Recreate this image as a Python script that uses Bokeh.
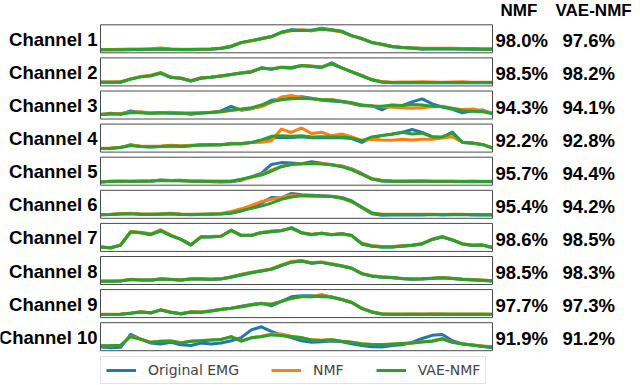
from bokeh.plotting import figure
from bokeh.models import Range1d, ColumnDataSource, Legend, LegendItem
from bokeh.core.properties import value
from bokeh.embed import file_html
from bokeh.resources import INLINE

# ---------------- data ----------------
channels = ["Channel 1", "Channel 2", "Channel 3", "Channel 4", "Channel 5",
            "Channel 6", "Channel 7", "Channel 8", "Channel 9", "Channel 10"]
nmf_acc = ["98.0%", "98.5%", "94.3%", "92.2%", "95.7%", "95.4%", "98.6%", "98.5%", "97.7%", "91.9%"]
vae_acc = ["97.6%", "98.2%", "94.1%", "92.8%", "94.4%", "94.2%", "98.5%", "98.3%", "97.3%", "91.2%"]
headers = ["NMF", "VAE-NMF"]
series_names = ["Original EMG", "NMF", "VAE-NMF"]

emg_1 = [0.01,0.01,0.02,0.02,0.03,0.04,0.05,0.03,0.02,0.02,0.03,0.04,0.07,0.15,0.33,0.42,0.5,0.6,0.77,0.9,0.88,0.88,0.97,0.9,0.84,0.63,0.52,0.33,0.25,0.15,0.11,0.08,0.04,0.05,0.05,0.06,0.05,0.04,0.04,0.04]
nmf_1 = [0.02,0.03,0.04,0.05,0.05,0.06,0.09,0.05,0.04,0.04,0.04,0.05,0.09,0.18,0.32,0.4,0.52,0.58,0.78,0.86,0.9,0.85,0.93,0.88,0.8,0.64,0.5,0.34,0.26,0.17,0.12,0.1,0.08,0.08,0.08,0.08,0.07,0.07,0.06,0.06]
vae_1 = [0.01,0.02,0.02,0.03,0.03,0.04,0.05,0.04,0.03,0.03,0.04,0.05,0.08,0.17,0.34,0.42,0.5,0.6,0.8,0.88,0.87,0.88,0.92,0.89,0.82,0.64,0.5,0.34,0.26,0.16,0.11,0.09,0.07,0.06,0.06,0.06,0.05,0.05,0.04,0.04]

emg_2 = [0.04,0.04,0.04,0.18,0.28,0.33,0.45,0.25,0.22,0.1,0.22,0.26,0.32,0.38,0.45,0.5,0.68,0.62,0.7,0.66,0.78,0.74,0.7,0.9,0.68,0.5,0.33,0.15,0.05,0.02,0.02,0.02,0.03,0.02,0.02,0.02,0.03,0.02,0.02,0.02]
nmf_2 = [0.05,0.05,0.06,0.2,0.3,0.35,0.48,0.27,0.22,0.12,0.24,0.27,0.33,0.38,0.46,0.52,0.66,0.63,0.72,0.7,0.78,0.76,0.72,0.86,0.68,0.5,0.34,0.16,0.07,0.04,0.05,0.05,0.06,0.05,0.04,0.05,0.06,0.04,0.04,0.04]
vae_2 = [0.04,0.04,0.05,0.18,0.28,0.33,0.45,0.26,0.22,0.1,0.23,0.26,0.32,0.38,0.45,0.5,0.67,0.63,0.7,0.69,0.78,0.75,0.71,0.86,0.68,0.5,0.33,0.15,0.05,0.03,0.03,0.03,0.03,0.03,0.03,0.03,0.03,0.03,0.03,0.03]

emg_3 = [0.07,0.13,0.09,0.24,0.17,0.13,0.17,0.13,0.15,0.09,0.15,0.17,0.24,0.44,0.27,0.33,0.47,0.71,0.77,0.81,0.87,0.8,0.71,0.68,0.64,0.57,0.47,0.47,0.28,0.49,0.47,0.64,0.77,0.55,0.41,0.31,0.15,0.24,0.28,0.11]
nmf_3 = [0.1,0.1,0.12,0.18,0.2,0.15,0.16,0.18,0.14,0.15,0.16,0.18,0.2,0.26,0.3,0.35,0.42,0.62,0.85,0.92,0.82,0.78,0.72,0.74,0.66,0.58,0.5,0.46,0.42,0.4,0.38,0.36,0.38,0.42,0.45,0.35,0.3,0.32,0.25,0.15]
vae_3 = [0.08,0.1,0.1,0.16,0.16,0.14,0.15,0.15,0.14,0.13,0.15,0.17,0.2,0.28,0.32,0.38,0.5,0.65,0.73,0.78,0.8,0.78,0.74,0.72,0.67,0.6,0.5,0.46,0.45,0.5,0.48,0.52,0.5,0.45,0.42,0.36,0.25,0.22,0.2,0.12]

emg_4 = [0.04,0.04,0.08,0.21,0.13,0.11,0.13,0.16,0.13,0.16,0.21,0.19,0.21,0.27,0.24,0.31,0.4,0.51,0.53,0.53,0.56,0.51,0.53,0.51,0.51,0.48,0.31,0.53,0.61,0.67,0.75,0.88,0.75,0.56,0.53,0.77,0.31,0.27,0.21,0.06]
nmf_4 = [0.05,0.06,0.1,0.18,0.15,0.14,0.15,0.18,0.16,0.18,0.2,0.22,0.2,0.25,0.26,0.3,0.32,0.38,0.9,0.75,0.95,0.7,0.76,0.6,0.68,0.55,0.4,0.45,0.42,0.4,0.45,0.42,0.45,0.45,0.5,0.56,0.32,0.28,0.22,0.08]
vae_4 = [0.04,0.05,0.08,0.17,0.13,0.12,0.13,0.15,0.14,0.16,0.19,0.2,0.2,0.24,0.26,0.3,0.42,0.58,0.6,0.58,0.6,0.55,0.56,0.55,0.55,0.5,0.38,0.55,0.62,0.68,0.76,0.68,0.72,0.55,0.55,0.72,0.32,0.28,0.22,0.07]

emg_5 = [0.02,0.06,0.06,0.04,0.05,0.06,0.11,0.09,0.1,0.06,0.05,0.03,0.02,0.03,0.1,0.25,0.4,0.8,0.88,0.86,0.83,0.92,0.85,0.78,0.73,0.6,0.4,0.15,0.07,0.05,0.04,0.05,0.06,0.04,0.04,0.04,0.03,0.04,0.03,0.03]
nmf_5 = [0.03,0.05,0.05,0.06,0.07,0.08,0.1,0.09,0.08,0.07,0.07,0.06,0.06,0.07,0.13,0.22,0.36,0.55,0.72,0.8,0.83,0.84,0.84,0.8,0.72,0.58,0.38,0.18,0.1,0.08,0.07,0.07,0.08,0.06,0.06,0.06,0.05,0.06,0.05,0.05]
vae_5 = [0.02,0.04,0.05,0.05,0.06,0.07,0.09,0.08,0.08,0.06,0.06,0.05,0.05,0.06,0.14,0.25,0.33,0.5,0.7,0.8,0.83,0.84,0.82,0.78,0.7,0.56,0.36,0.16,0.08,0.06,0.05,0.06,0.06,0.05,0.05,0.05,0.04,0.05,0.04,0.04]

emg_6 = [0.04,0.05,0.08,0.1,0.06,0.05,0.06,0.08,0.05,0.04,0.05,0.06,0.07,0.1,0.2,0.35,0.55,0.8,0.78,0.98,0.92,0.9,0.88,0.86,0.8,0.65,0.35,0.08,0.02,0.03,0.03,0.04,0.03,0.05,0.03,0.04,0.05,0.03,0.04,0.03]
nmf_6 = [0.05,0.06,0.08,0.09,0.07,0.07,0.08,0.1,0.07,0.06,0.06,0.07,0.09,0.18,0.3,0.45,0.62,0.72,0.8,0.9,0.88,0.86,0.87,0.84,0.76,0.6,0.36,0.12,0.06,0.06,0.06,0.06,0.06,0.06,0.05,0.06,0.06,0.05,0.05,0.05]
vae_6 = [0.04,0.05,0.07,0.08,0.06,0.06,0.07,0.08,0.06,0.05,0.06,0.07,0.08,0.12,0.22,0.32,0.42,0.55,0.72,0.82,0.88,0.88,0.86,0.84,0.78,0.63,0.38,0.12,0.05,0.05,0.05,0.05,0.05,0.05,0.05,0.05,0.05,0.05,0.04,0.04]

emg_7 = [0.07,0.03,0.16,0.75,0.71,0.62,0.79,0.58,0.41,0.16,0.52,0.52,0.55,0.82,0.58,0.58,0.71,0.75,0.79,0.93,0.71,0.62,0.68,0.62,0.66,0.58,0.21,0.11,0.07,0.07,0.11,0.14,0.21,0.41,0.52,0.38,0.21,0.14,0.16,0.04]
nmf_7 = [0.08,0.04,0.17,0.76,0.73,0.66,0.84,0.6,0.42,0.18,0.53,0.54,0.56,0.8,0.6,0.6,0.72,0.78,0.82,0.9,0.7,0.64,0.68,0.63,0.66,0.58,0.24,0.14,0.1,0.1,0.13,0.16,0.22,0.42,0.54,0.4,0.22,0.16,0.17,0.06]
vae_7 = [0.07,0.04,0.16,0.74,0.71,0.63,0.8,0.58,0.41,0.17,0.52,0.53,0.55,0.81,0.59,0.59,0.71,0.76,0.8,0.91,0.71,0.63,0.68,0.62,0.66,0.58,0.22,0.12,0.08,0.08,0.12,0.15,0.22,0.41,0.53,0.39,0.21,0.15,0.16,0.05]

emg_8 = [0.02,0.02,0.03,0.1,0.08,0.07,0.12,0.1,0.07,0.12,0.12,0.1,0.12,0.2,0.3,0.4,0.48,0.55,0.72,0.88,0.92,0.82,0.86,0.78,0.7,0.6,0.35,0.25,0.2,0.18,0.14,0.11,0.12,0.15,0.18,0.15,0.1,0.08,0.06,0.03]
nmf_8 = [0.03,0.03,0.05,0.11,0.09,0.08,0.13,0.11,0.09,0.13,0.13,0.12,0.14,0.22,0.33,0.42,0.5,0.58,0.75,0.9,0.94,0.84,0.88,0.8,0.71,0.6,0.37,0.27,0.22,0.19,0.15,0.13,0.14,0.16,0.19,0.16,0.12,0.1,0.08,0.05]
vae_8 = [0.02,0.02,0.04,0.1,0.08,0.08,0.12,0.1,0.08,0.12,0.12,0.11,0.13,0.21,0.31,0.4,0.48,0.56,0.72,0.87,0.92,0.83,0.86,0.78,0.7,0.6,0.36,0.26,0.21,0.19,0.15,0.12,0.13,0.16,0.18,0.15,0.11,0.09,0.07,0.04]

emg_9 = [0.02,0.02,0.03,0.07,0.13,0.08,0.22,0.12,0.04,0.13,0.12,0.17,0.25,0.3,0.38,0.46,0.52,0.4,0.6,0.8,0.85,0.85,0.8,0.8,0.68,0.55,0.28,0.12,0.04,0.02,0.02,0.03,0.02,0.02,0.03,0.02,0.02,0.02,0.02,0.02]
nmf_9 = [0.03,0.03,0.04,0.08,0.14,0.1,0.23,0.13,0.06,0.14,0.13,0.18,0.24,0.29,0.36,0.44,0.5,0.48,0.6,0.72,0.82,0.8,0.9,0.78,0.68,0.55,0.3,0.14,0.05,0.04,0.04,0.04,0.04,0.05,0.04,0.04,0.04,0.04,0.04,0.03]
vae_9 = [0.02,0.02,0.03,0.07,0.13,0.09,0.22,0.12,0.05,0.13,0.12,0.17,0.24,0.29,0.36,0.44,0.5,0.46,0.6,0.74,0.8,0.8,0.84,0.78,0.68,0.55,0.29,0.13,0.04,0.03,0.03,0.03,0.03,0.03,0.03,0.03,0.03,0.03,0.03,0.03]

emg_10 = [0.04,0.01,0.03,0.6,0.39,0.22,0.18,0.25,0.14,0.11,0.22,0.18,0.22,0.32,0.46,0.8,0.94,0.74,0.57,0.46,0.32,0.25,0.28,0.31,0.28,0.19,0.11,0.06,0.04,0.11,0.14,0.25,0.42,0.56,0.6,0.32,0.18,0.14,0.07,0.01]
nmf_10 = [0.1,0.1,0.12,0.52,0.4,0.26,0.3,0.32,0.23,0.3,0.33,0.35,0.38,0.5,0.32,0.46,0.52,0.62,0.62,0.52,0.46,0.36,0.34,0.36,0.3,0.26,0.19,0.16,0.15,0.18,0.2,0.22,0.28,0.32,0.42,0.26,0.19,0.13,0.09,0.05]
vae_10 = [0.1,0.1,0.12,0.5,0.38,0.25,0.3,0.3,0.22,0.3,0.32,0.35,0.38,0.5,0.3,0.45,0.5,0.58,0.55,0.5,0.45,0.35,0.33,0.36,0.3,0.25,0.18,0.15,0.14,0.17,0.2,0.22,0.27,0.3,0.4,0.25,0.18,0.12,0.08,0.04]

emg = [emg_1, emg_2, emg_3, emg_4, emg_5, emg_6, emg_7, emg_8, emg_9, emg_10]
nmf = [nmf_1, nmf_2, nmf_3, nmf_4, nmf_5, nmf_6, nmf_7, nmf_8, nmf_9, nmf_10]
vae = [vae_1, vae_2, vae_3, vae_4, vae_5, vae_6, vae_7, vae_8, vae_9, vae_10]

# ---------------- layout ----------------
W, H = 640, 385
PANEL_L, PANEL_R = 100, 492
PANEL_TOP0, PANEL_PITCH, PANEL_H = 24.3, 33.1, 28.0
LO, HI = -0.12, 1.12
COLORS = ["#1f77b4", "#ff7f0e", "#2ca02c"]
FONT = value("Liberation Sans")

p = figure(width=W, height=H, output_backend="svg", toolbar_location=None,
           x_range=Range1d(0, W), y_range=Range1d(H, 0),
           x_axis_location=None, y_axis_location=None, min_border=0)
p.outline_line_color = None
p.grid.visible = False

n = len(emg_1)
xs_per_px = (n - 1) / (PANEL_R - PANEL_L)
xstart = -PANEL_L * xs_per_px
p.extra_x_ranges = {"samples": Range1d(xstart, xstart + W * xs_per_px)}
sample_idx = list(range(n))

extra_y = {}
tops, bottoms = [], []
for k in range(len(channels)):
    T = PANEL_TOP0 + k * PANEL_PITCH
    B = T + PANEL_H
    tops.append(T)
    bottoms.append(B)
    sc = (HI - LO) / (B - T)
    e = HI + T * sc
    extra_y[f"ch{k}"] = Range1d(e - H * sc, e)
p.extra_y_ranges = extra_y

legend_renderers = []
for k in range(len(channels)):
    src = ColumnDataSource(dict(x=sample_idx, emg=emg[k], nmf=nmf[k], vae=vae[k]))
    rs = []
    for col, c in zip(["emg", "nmf", "vae"], COLORS):
        r = p.line("x", col, source=src, color=c, line_width=3, line_join="round",
                   x_range_name="samples", y_range_name=f"ch{k}")
        rs.append(r)
    if k == 0:
        legend_renderers = rs
    p.quad(left=[0], right=[n - 1], bottom=[LO], top=[HI], fill_color=None,
           line_color="#4a4a4a", line_width=1,
           x_range_name="samples", y_range_name=f"ch{k}")

centers = [(t + b) / 2 for t, b in zip(tops, bottoms)]
lab_src = ColumnDataSource(dict(x=[PANEL_L - 3] * len(channels), y=[c + 0.5 for c in centers], t=channels))
p.text("x", "y", text="t", source=lab_src, text_font=FONT, text_font_style="bold",
       text_font_size="18.5px", text_align="right", text_baseline="middle", text_color="black")

acc_y = [c + 2 for c in centers]
nmf_src = ColumnDataSource(dict(x=[PANEL_R + 3] * len(channels), y=acc_y, t=nmf_acc))
p.text("x", "y", text="t", source=nmf_src, text_font=FONT, text_font_style="bold",
       text_font_size="18.5px", text_align="left", text_baseline="middle", text_color="black")
vae_src = ColumnDataSource(dict(x=[PANEL_R + 70] * len(channels), y=acc_y, t=vae_acc))
p.text("x", "y", text="t", source=vae_src, text_font=FONT, text_font_style="bold",
       text_font_size="18.5px", text_align="left", text_baseline="middle", text_color="black")

hdr_src = ColumnDataSource(dict(x=[PANEL_R + 8, PANEL_R + 63], y=[10, 10], t=headers))
p.text("x", "y", text="t", source=hdr_src, text_font=FONT, text_font_style="bold",
       text_font_size="17px", text_align="left", text_baseline="middle", text_color="black")

legend = Legend(items=[LegendItem(label=nm, renderers=[r]) for nm, r in zip(series_names, legend_renderers)],
                orientation="horizontal", location=(PANEL_L, 1),
                label_text_font="DejaVu Sans", label_text_font_size="14px",
                glyph_width=30, glyph_height=14, label_height=14, label_standoff=12,
                spacing=32, padding=5, margin=0,
                border_line_color="#c8c8c8", border_line_width=1,
                background_fill_color="white", background_fill_alpha=1.0)
p.add_layout(legend)

open("out.html", "w").write(file_html(p, INLINE))
